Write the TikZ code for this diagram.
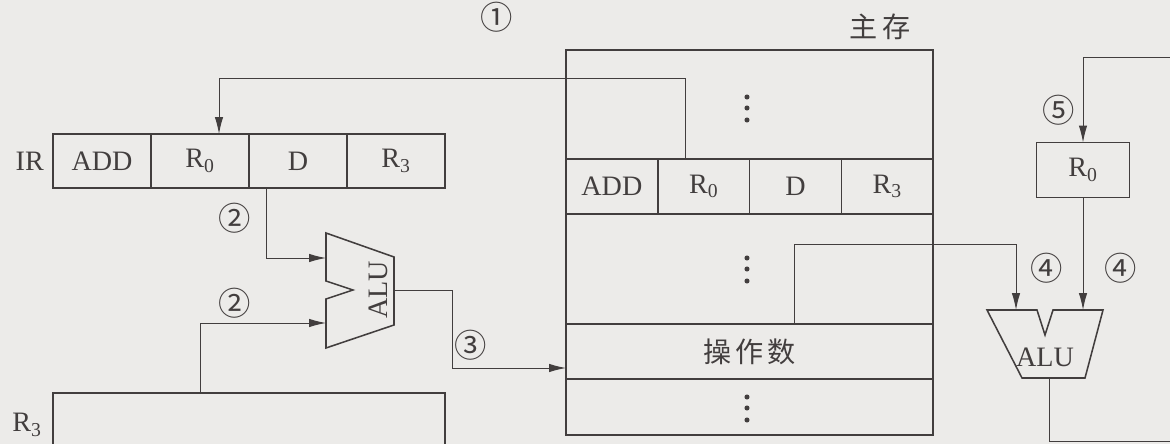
\documentclass[tikz,border=0pt]{standalone}
\usepackage{fontspec}
\setmainfont{Liberation Serif}
\newfontfamily\cjk{Noto Sans CJK SC}
\usetikzlibrary{arrows.meta,calc,positioning}

\definecolor{paper}{RGB}{236,235,233}
\definecolor{ink}{RGB}{66,62,62}

\tikzset{
  box/.style={draw=ink, line width=1.1pt, inner sep=0pt, outer sep=0pt},
  cell/.style={box, minimum width=#1, minimum height=1.35cm, anchor=north west},
  wire/.style={draw=ink, line width=0.7pt},
  arr/.style={wire, -{Latex[length=12pt,width=6pt]}},
  numlbl/.style={font=\cjk\fontsize{23}{25}\selectfont},
}

\begin{document}
\begin{tikzpicture}[x=0.025cm,y=-0.025cm,
  every node/.append style={text=ink, font=\fontsize{20}{24}\selectfont}]

% Paper
\clip (0,0) rectangle (1170,444);
\fill[paper] (0,0) rectangle (1170,444);

% IR register
\node[cell=2.45cm] (irA) at (53,134) {ADD};
\node[cell=2.45cm, right=0pt of irA] (irB) {R\textsubscript{0}};
\node[cell=2.45cm, right=0pt of irB] (irC) {D};
\node[cell=2.45cm, right=0pt of irC] (irD) {R\textsubscript{3}};
\node[left=3pt of irA] (irlbl) {IR};

% R3 register (cut by the lower edge)
\node[box, minimum width=9.8cm, minimum height=3cm, anchor=north west] (r3) at (53,393) {};
\node (r3lbl) at (27,425) {R\textsubscript{3}};

% Main memory
\node[box, minimum width=9.175cm, minimum height=9.625cm, anchor=north west] (mem) at (566,50) {};
\node (memlbl) at (880,27) {\cjk 主\hspace{4pt}存};
\node[cell=2.294cm, minimum height=1.375cm] (mA) at (566,159) {ADD};
\node[cell=2.294cm, minimum height=1.375cm, right=0pt of mA] (mB) {R\textsubscript{0}};
\node[cell=2.294cm, minimum height=1.375cm, right=0pt of mB] (mC) {D};
\node[cell=2.294cm, minimum height=1.375cm, right=0pt of mC] (mD) {R\textsubscript{3}};
\node[cell=9.175cm, minimum height=1.375cm] (opnd) at (566,324) {\cjk 操\hspace{3pt}作\hspace{3pt}数};

% Ellipsis dots
\foreach \y in {97,108,120,258,269,281,397,408,420}
  \fill[ink] (747,\y) circle (1.8pt);

% Left ALU
\draw[box] (326,233) -- (394,257) -- (394,325) -- (326,348) -- (326,299)
  -- (353,290) -- (326,281) -- cycle;
\node[rotate=90] (aluLlbl) at (378,290) {ALU};
\coordinate (aluLin1) at (326,258);
\coordinate (aluLin2) at (326,323);
\coordinate (aluLout) at (394,290);

% Right ALU
\draw[box] (987,310) -- (1037,310) -- (1045,335) -- (1053,310) -- (1103,310)
  -- (1085,378) -- (1022,378) -- cycle;
\node (aluRlbl) at (1045,357) {ALU};
\coordinate (aluRin1) at (1016,310);
\coordinate (aluRin2) at (1083,310);
\coordinate (aluRout) at (1049,378);

% R0 register
\node[box, minimum width=2.325cm, minimum height=1.375cm] (r0) at (1083,170) {R\textsubscript{0}};

% Connector ends
\coordinate (s1) at (685,159);
\coordinate (t1) at (219,134);
\coordinate (s2) at (266,188);
\coordinate (s3) at (200,393);
\coordinate (memin) at (566,368);
\coordinate (s4) at (794,324);
\coordinate (s5) at (1170,57);
\coordinate (e6) at (1170,441);

% Connectors
\draw[arr] (s1) -- ++(0,-81) -| (t1);
\draw[arr] (s2) |- (aluLin1);
\draw[arr] (s3) |- (aluLin2);
\draw[arr] (aluLout) -- ++(58,0) |- (memin);
\draw[arr] (s4) -- ++(0,-80) -| (aluRin1);
\draw[arr] (r0.south) -- (aluRin2);
\draw[arr] (s5) -| (r0.north);
\draw[wire] (aluRout) |- (e6);

% Step numbers
\node[numlbl] (st1) at (497,17) {①};
\node[numlbl] (st2a) at (235,218) {②};
\node[numlbl] (st2b) at (235,303) {②};
\node[numlbl] (st3) at (471,345) {③};
\node[numlbl] (st4a) at (1047,268) {④};
\node[numlbl] (st4b) at (1121,268) {④};
\node[numlbl] (st5) at (1059,110) {⑤};

\end{tikzpicture}
\end{document}
